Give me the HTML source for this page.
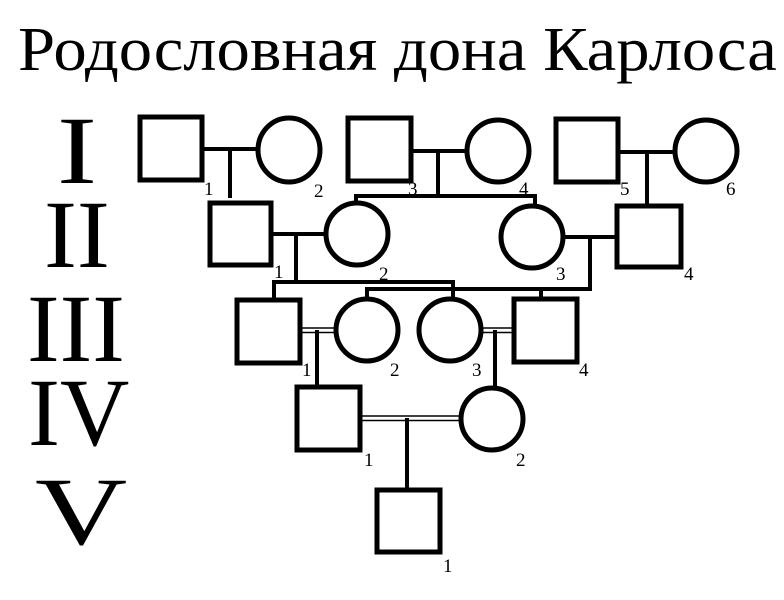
<!DOCTYPE html>
<html><head><meta charset="utf-8"><style>
html,body{margin:0;padding:0;background:#fff}
#w{position:relative;width:784px;height:600px;overflow:hidden}
svg{position:absolute;left:0;top:0}
.t{position:absolute;font-family:"Liberation Serif","Times New Roman","DejaVu Serif",serif;line-height:1;white-space:nowrap;transform-origin:0 0;color:#000}
.n{font-size:19px}
</style></head>
<body><div id="w">
<svg width="784" height="600" viewBox="0 0 784 600" xmlns="http://www.w3.org/2000/svg">
<g fill="none" stroke="#000" stroke-width="5">
<rect x="140" y="117" width="62" height="63"/>
<ellipse cx="289" cy="150" rx="31" ry="32"/>
<rect x="348" y="118" width="63" height="63"/>
<ellipse cx="498" cy="151" rx="31" ry="31"/>
<rect x="556" y="119" width="62" height="63"/>
<ellipse cx="706" cy="151" rx="31" ry="31"/>
<rect x="210" y="203" width="61" height="62"/>
<ellipse cx="357" cy="234" rx="31" ry="31"/>
<ellipse cx="532" cy="237" rx="31" ry="31"/>
<rect x="617" y="206" width="64" height="61"/>
<rect x="237" y="300" width="63" height="63"/>
<ellipse cx="367" cy="330" rx="31" ry="31"/>
<ellipse cx="450" cy="330" rx="31" ry="31"/>
<rect x="514" y="299" width="63" height="63"/>
<rect x="297" y="387" width="63" height="63"/>
<ellipse cx="492" cy="419" rx="31" ry="31"/>
<rect x="377" y="490" width="63" height="62"/>
</g>
<g fill="none" stroke="#000" stroke-width="4">
<path d="M202 149H258M230 149V198"/>
<path d="M411 151H467M438 151V197M356 205V196H535V206"/>
<path d="M618 152H675M647 152V206"/>
<path d="M271 234H326M296 234V282M274 300V282H453V298"/>
<path d="M563 237H617M590 237V289H367V299M541 289V299"/>
<path d="M317 330V385M495 330V388M407 418V490"/>
</g>
<g stroke="#000" stroke-width="1.6">
<path d="M300 328H336M300 332.5H336"/>
<path d="M481 328H514M481 332.5H514"/>
<path d="M360 416H461M360 420.5H461"/>
</g>
</svg>
<div class="t" style="left:18px;top:19px;font-size:62px;transform:scaleX(1.075)">Родословная дона Карлоса</div>
<div class="t" style="left:57px;top:103px;font-size:96px;transform:scaleX(1.25)">I</div>
<div class="t" style="left:44px;top:187px;font-size:96px;transform:scaleX(1.03)">II</div>
<div class="t" style="left:27px;top:281px;font-size:96px;transform:scaleX(1.02)">III</div>
<div class="t" style="left:28px;top:365px;font-size:96px;transform:scaleX(1.0)">IV</div>
<div class="t" style="left:35px;top:464px;font-size:96px;transform:scaleX(1.33)">V</div>
<div class="t n" style="left:204px;top:180px">1</div><div class="t n" style="left:314px;top:182px">2</div>
<div class="t n" style="left:408px;top:180px">3</div><div class="t n" style="left:519px;top:180px">4</div>
<div class="t n" style="left:620px;top:180px">5</div><div class="t n" style="left:726px;top:180px">6</div>
<div class="t n" style="left:274px;top:263px">1</div><div class="t n" style="left:379px;top:265px">2</div>
<div class="t n" style="left:556px;top:265px">3</div><div class="t n" style="left:684px;top:265px">4</div>
<div class="t n" style="left:302px;top:361px">1</div><div class="t n" style="left:390px;top:361px">2</div>
<div class="t n" style="left:472px;top:361px">3</div><div class="t n" style="left:579px;top:361px">4</div>
<div class="t n" style="left:364px;top:451px">1</div><div class="t n" style="left:516px;top:451px">2</div>
<div class="t n" style="left:443px;top:557px">1</div>
</div></body></html>
